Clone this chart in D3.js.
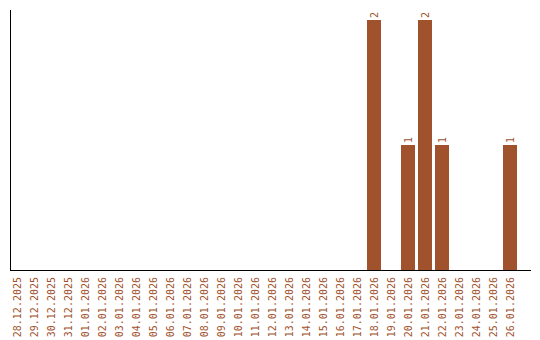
<!DOCTYPE html>
<html>
<head>
<meta charset="utf-8">
<script src="https://cdn.jsdelivr.net/npm/d3@7"></script>
<style>
  body { margin: 0; background: #fff; }
  text { font-family: "DejaVu Sans Mono", monospace; }
</style>
</head>
<body>
<div id="chart"></div>
<script>
// days shown on the x axis
var dates = ["28.12.2025", "29.12.2025", "30.12.2025", "31.12.2025",
  "01.01.2026", "02.01.2026", "03.01.2026", "04.01.2026", "05.01.2026",
  "06.01.2026", "07.01.2026", "08.01.2026", "09.01.2026", "10.01.2026",
  "11.01.2026", "12.01.2026", "13.01.2026", "14.01.2026", "15.01.2026",
  "16.01.2026", "17.01.2026", "18.01.2026", "19.01.2026", "20.01.2026",
  "21.01.2026", "22.01.2026", "23.01.2026", "24.01.2026", "25.01.2026",
  "26.01.2026"];
var counts = [0, 0, 0, 0, 0, 0, 0, 0, 0, 0, 0, 0, 0, 0, 0, 0, 0, 0, 0, 0, 0,
  2, 0, 1, 2, 1, 0, 0, 0, 1];

var svgWidth = 540;
var svgHeight = 340;
var color = "#a0522d";

var svg = d3.select("#chart")
  .append("svg")
  .attr("width", svgWidth)
  .attr("height", svgHeight);

var data = dates.map(function(d, i) { return { date: d, count: counts[i] }; });

var x = d3.scaleBand()
  .domain(dates)
  .range([10, 517])
  .paddingInner(3 / 17)
  .paddingOuter(0);

var y = d3.scaleLinear()
  .domain([0, 2])
  .range([270, 20]);

// bars
svg.selectAll("rect.bar")
  .data(data.filter(function(d) { return d.count > 0; }))
  .enter()
  .append("rect")
  .attr("class", "bar")
  .attr("x", function(d) { return x(d.date); })
  .attr("y", function(d) { return y(d.count); })
  .attr("width", x.bandwidth())
  .attr("height", function(d) { return y(0) - y(d.count); })
  .attr("fill", color);

// value labels above bars
svg.selectAll("text.val")
  .data(data.filter(function(d) { return d.count > 0; }))
  .enter()
  .append("text")
  .attr("class", "val")
  .attr("transform", function(d) {
    return "translate(" + (x(d.date) + x.bandwidth() / 2 + 3.5) + "," + (y(d.count) - 2) + ") rotate(-90)";
  })
  .attr("font-size", 10)
  .attr("fill", color)
  .text(function(d) { return d.count; });

// x axis labels
var xAxis = d3.axisBottom(x).tickSize(0).tickPadding(0);
var gx = svg.append("g")
  .attr("transform", "translate(0,270)")
  .call(xAxis);
gx.select(".domain").remove();
gx.selectAll("text")
  .attr("font-family", "DejaVu Sans Mono, monospace")
  .attr("font-size", 10)
  .attr("fill", color)
  .attr("text-anchor", "end")
  .attr("transform", "rotate(-90)")
  .attr("x", -7)
  .attr("y", 0)
  .attr("dy", "0.35em");

// axis lines
svg.append("line")
  .attr("x1", 10.5).attr("x2", 10.5)
  .attr("y1", 10).attr("y2", 270)
  .attr("stroke", "#000");
svg.append("line")
  .attr("x1", 10).attr("x2", 531)
  .attr("y1", 270.5).attr("y2", 270.5)
  .attr("stroke", "#000");
</script>
</body>
</html>
